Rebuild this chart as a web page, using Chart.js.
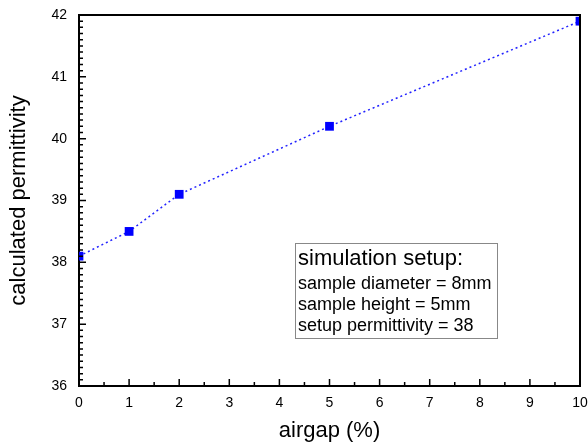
<!DOCTYPE html>
<html>
<head>
<meta charset="utf-8">
<script src="https://cdn.jsdelivr.net/npm/chart.js@4.4.0/dist/chart.umd.min.js"></script>
<style>
  html, body { margin: 0; padding: 0; background: #fff; }
  #wrap { width: 588px; height: 446px; }
</style>
</head>
<body>
<div id="wrap"><canvas id="permChart" width="588" height="446"></canvas></div>
<script>
const airgap = [0, 1, 2, 5, 10];
const permittivity = [38.1, 38.5, 39.1, 40.2, 41.9];
const xTicks = [0, 1, 2, 3, 4, 5, 6, 7, 8, 9, 10];
const yTicks = [36, 37, 38, 39, 40, 41, 42];
const setupLines = [
    "sample diameter = 8mm",
    "sample height = 5mm",
    "setup permittivity = 38",
];

const FONT = "'Liberation Sans', Arial, sans-serif";

// inward ticks + top/right frame + the setup text box
const frameAndNotes = {
    id: "frameAndNotes",
    afterDraw(chart) {
        const { ctx, chartArea: a, scales } = chart;
        const x = scales.x, y = scales.y;
        ctx.save();
        ctx.strokeStyle = "#000";
        ctx.lineWidth = 2;
        ctx.beginPath();
        ctx.moveTo(a.left, a.top);
        ctx.lineTo(a.right, a.top);
        ctx.lineTo(a.right, a.bottom);
        ctx.stroke();

        ctx.lineWidth = 1.5;
        ctx.beginPath();
        for (let i = 0; i < xTicks.length - 1; i++) {
            const major = x.getPixelForValue(xTicks[i]);
            const minor = x.getPixelForValue((xTicks[i] + xTicks[i + 1]) / 2);
            if (i > 0) { ctx.moveTo(major, a.bottom); ctx.lineTo(major, a.bottom - 7); }
            ctx.moveTo(minor, a.bottom); ctx.lineTo(minor, a.bottom - 4);
        }
        for (let i = 0; i < yTicks.length - 1; i++) {
            for (let k = 0; k < 10; k++) {
                const py = y.getPixelForValue(yTicks[i] + k / 10);
                if (i === 0 && k === 0) continue;
                const len = k === 0 ? 7 : 4;
                ctx.moveTo(a.left, py); ctx.lineTo(a.left + len, py);
            }
        }
        ctx.stroke();

        // simulation setup box
        ctx.strokeStyle = "#888";
        ctx.lineWidth = 1;
        ctx.strokeRect(295.5, 243.5, 202, 95);
        ctx.fillStyle = "#000";
        ctx.textBaseline = "alphabetic";
        ctx.textAlign = "left";
        ctx.font = "22px " + FONT;
        ctx.fillText("simulation setup:", 298, 265);
        ctx.font = "18px " + FONT;
        setupLines.forEach((t, i) => ctx.fillText(t, 298, 289 + i * 21));
        ctx.restore();
    },
};

new Chart(document.getElementById("permChart"), {
    type: "scatter",
    data: {
        datasets: [{
            data: airgap.map((v, i) => ({ x: v, y: permittivity[i] })),
            showLine: true,
            borderColor: "#2222ff",
            borderWidth: 1.5,
            borderDash: [2, 3],
            pointStyle: "rect",
            pointRadius: 6.2,
            pointBorderWidth: 0,
            pointBackgroundColor: "#0000ff",
            clip: 0,
        }],
    },
    options: {
        responsive: false,
        animation: false,
        layout: { padding: { top: 15, right: 8, left: 0, bottom: 0 } },
        plugins: { legend: { display: false }, tooltip: { enabled: false } },
        scales: {
            x: {
                type: "linear",
                min: 0,
                max: 10,
                afterFit: (s) => {
                    s.height = 60;
                    s.paddingLeft = 0; s.paddingRight = 0;
                },
                afterBuildTicks: (s) => { s.ticks = xTicks.map((v) => ({ value: v })); },
                grid: { display: false, drawTicks: false },
                border: { display: true, color: "#000", width: 2 },
                ticks: { color: "#000", padding: 9, font: { family: FONT, size: 14 } },
                title: {
                    display: true,
                    text: "airgap (%)",
                    color: "#000",
                    font: { family: FONT, size: 22 },
                    padding: { top: 0, bottom: 2 },
                },
            },
            y: {
                type: "linear",
                min: 36,
                max: 42,
                afterFit: (s) => {
                    s.width = 79;
                    s.paddingTop = 0; s.paddingBottom = 0;
                },
                afterBuildTicks: (s) => { s.ticks = yTicks.map((v) => ({ value: v })); },
                grid: { display: false, drawTicks: false },
                border: { display: true, color: "#000", width: 2 },
                ticks: { color: "#000", padding: 12, font: { family: FONT, size: 14 } },
                title: {
                    display: true,
                    text: "calculated permittivity",
                    color: "#000",
                    font: { family: FONT, size: 22 },
                    padding: { top: 6, bottom: 0 },
                },
            },
        },
    },
    plugins: [frameAndNotes],
});
</script>
</body>
</html>
